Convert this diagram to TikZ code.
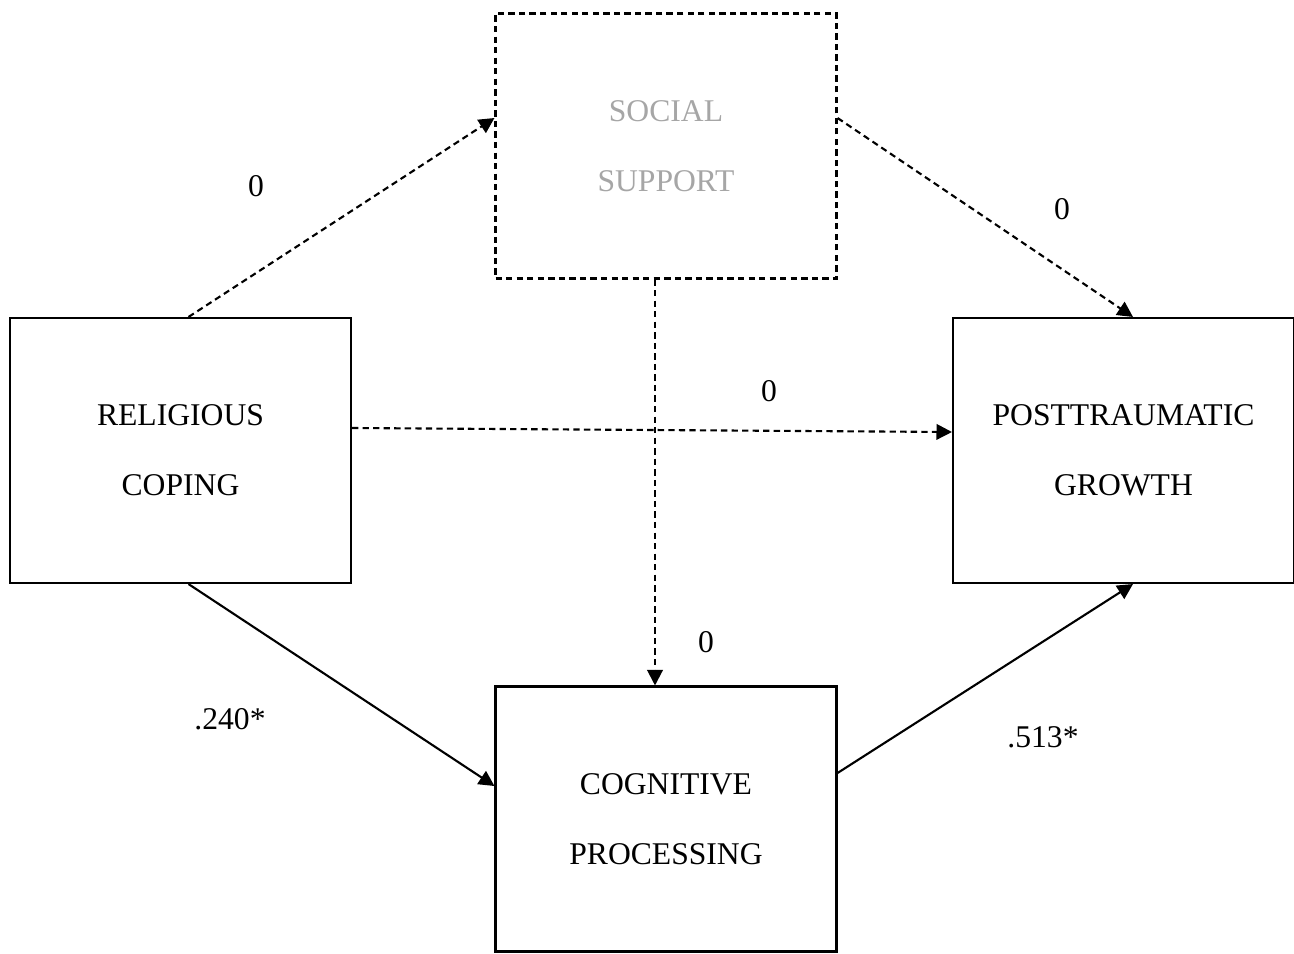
\documentclass[tikz,border=0pt]{standalone}
\usepackage{fontspec}
\setmainfont{Liberation Serif}
\usetikzlibrary{arrows.meta}
\definecolor{ssgray}{HTML}{A6A6A6}
\begin{document}
\begin{tikzpicture}[x=0.02cm,y=-0.02cm,
  varbox/.style={draw,line width=1.2pt,minimum width=6.82cm,minimum height=5.3cm,align=center,font=\fontsize{18}{28}\selectfont,inner sep=0pt},
  dashline/.style={dash pattern=on 3.6pt off 2.4pt},
  path/.style={line width=1.2pt,-{Triangle[length=0.31cm,width=0.31cm]}},
  coef/.style={font=\fontsize{18}{22}\selectfont,inner sep=0pt}]
\useasboundingbox (0,0) rectangle (1294,953);
\node[varbox,dashline,text=ssgray] (ss) at (666,146) {SOCIAL\\[0.42cm]SUPPORT};
\node[varbox] (rc) at (180.5,450.5) {RELIGIOUS\\[0.42cm]COPING};
\node[varbox] (ptg) at (1123.5,450.5) {POSTTRAUMATIC\\[0.42cm]GROWTH};
\node[varbox] (cp) at (666,819) {COGNITIVE\\[0.42cm]PROCESSING};
\draw[path,dashline] ([xshift=0.16cm]rc.north) -- ([yshift=0.56cm]ss.west);
\draw[path,dashline] ([yshift=0.56cm]ss.east) -- ([xshift=0.19cm]ptg.north);
\draw[path,dashline] ([yshift=0.45cm]rc.east) -- ([yshift=0.37cm]ptg.west);
\draw[path,dashline] ([xshift=-0.22cm]ss.south) -- ([xshift=-0.22cm]cp.north);
\draw[path] ([xshift=0.16cm]rc.south) -- ([yshift=0.66cm]cp.west);
\draw[path] ([yshift=0.92cm]cp.east) -- ([xshift=0.19cm]ptg.south);
\node[coef] (l1) at (256,186) {0};
\node[coef] (l2) at (1062,209) {0};
\node[coef] (l3) at (769,391) {0};
\node[coef] (l4) at (706,642) {0};
\node[coef] (l5) at (230,719) {.240*};
\node[coef] (l6) at (1043,737) {.513*};
\end{tikzpicture}
\end{document}
